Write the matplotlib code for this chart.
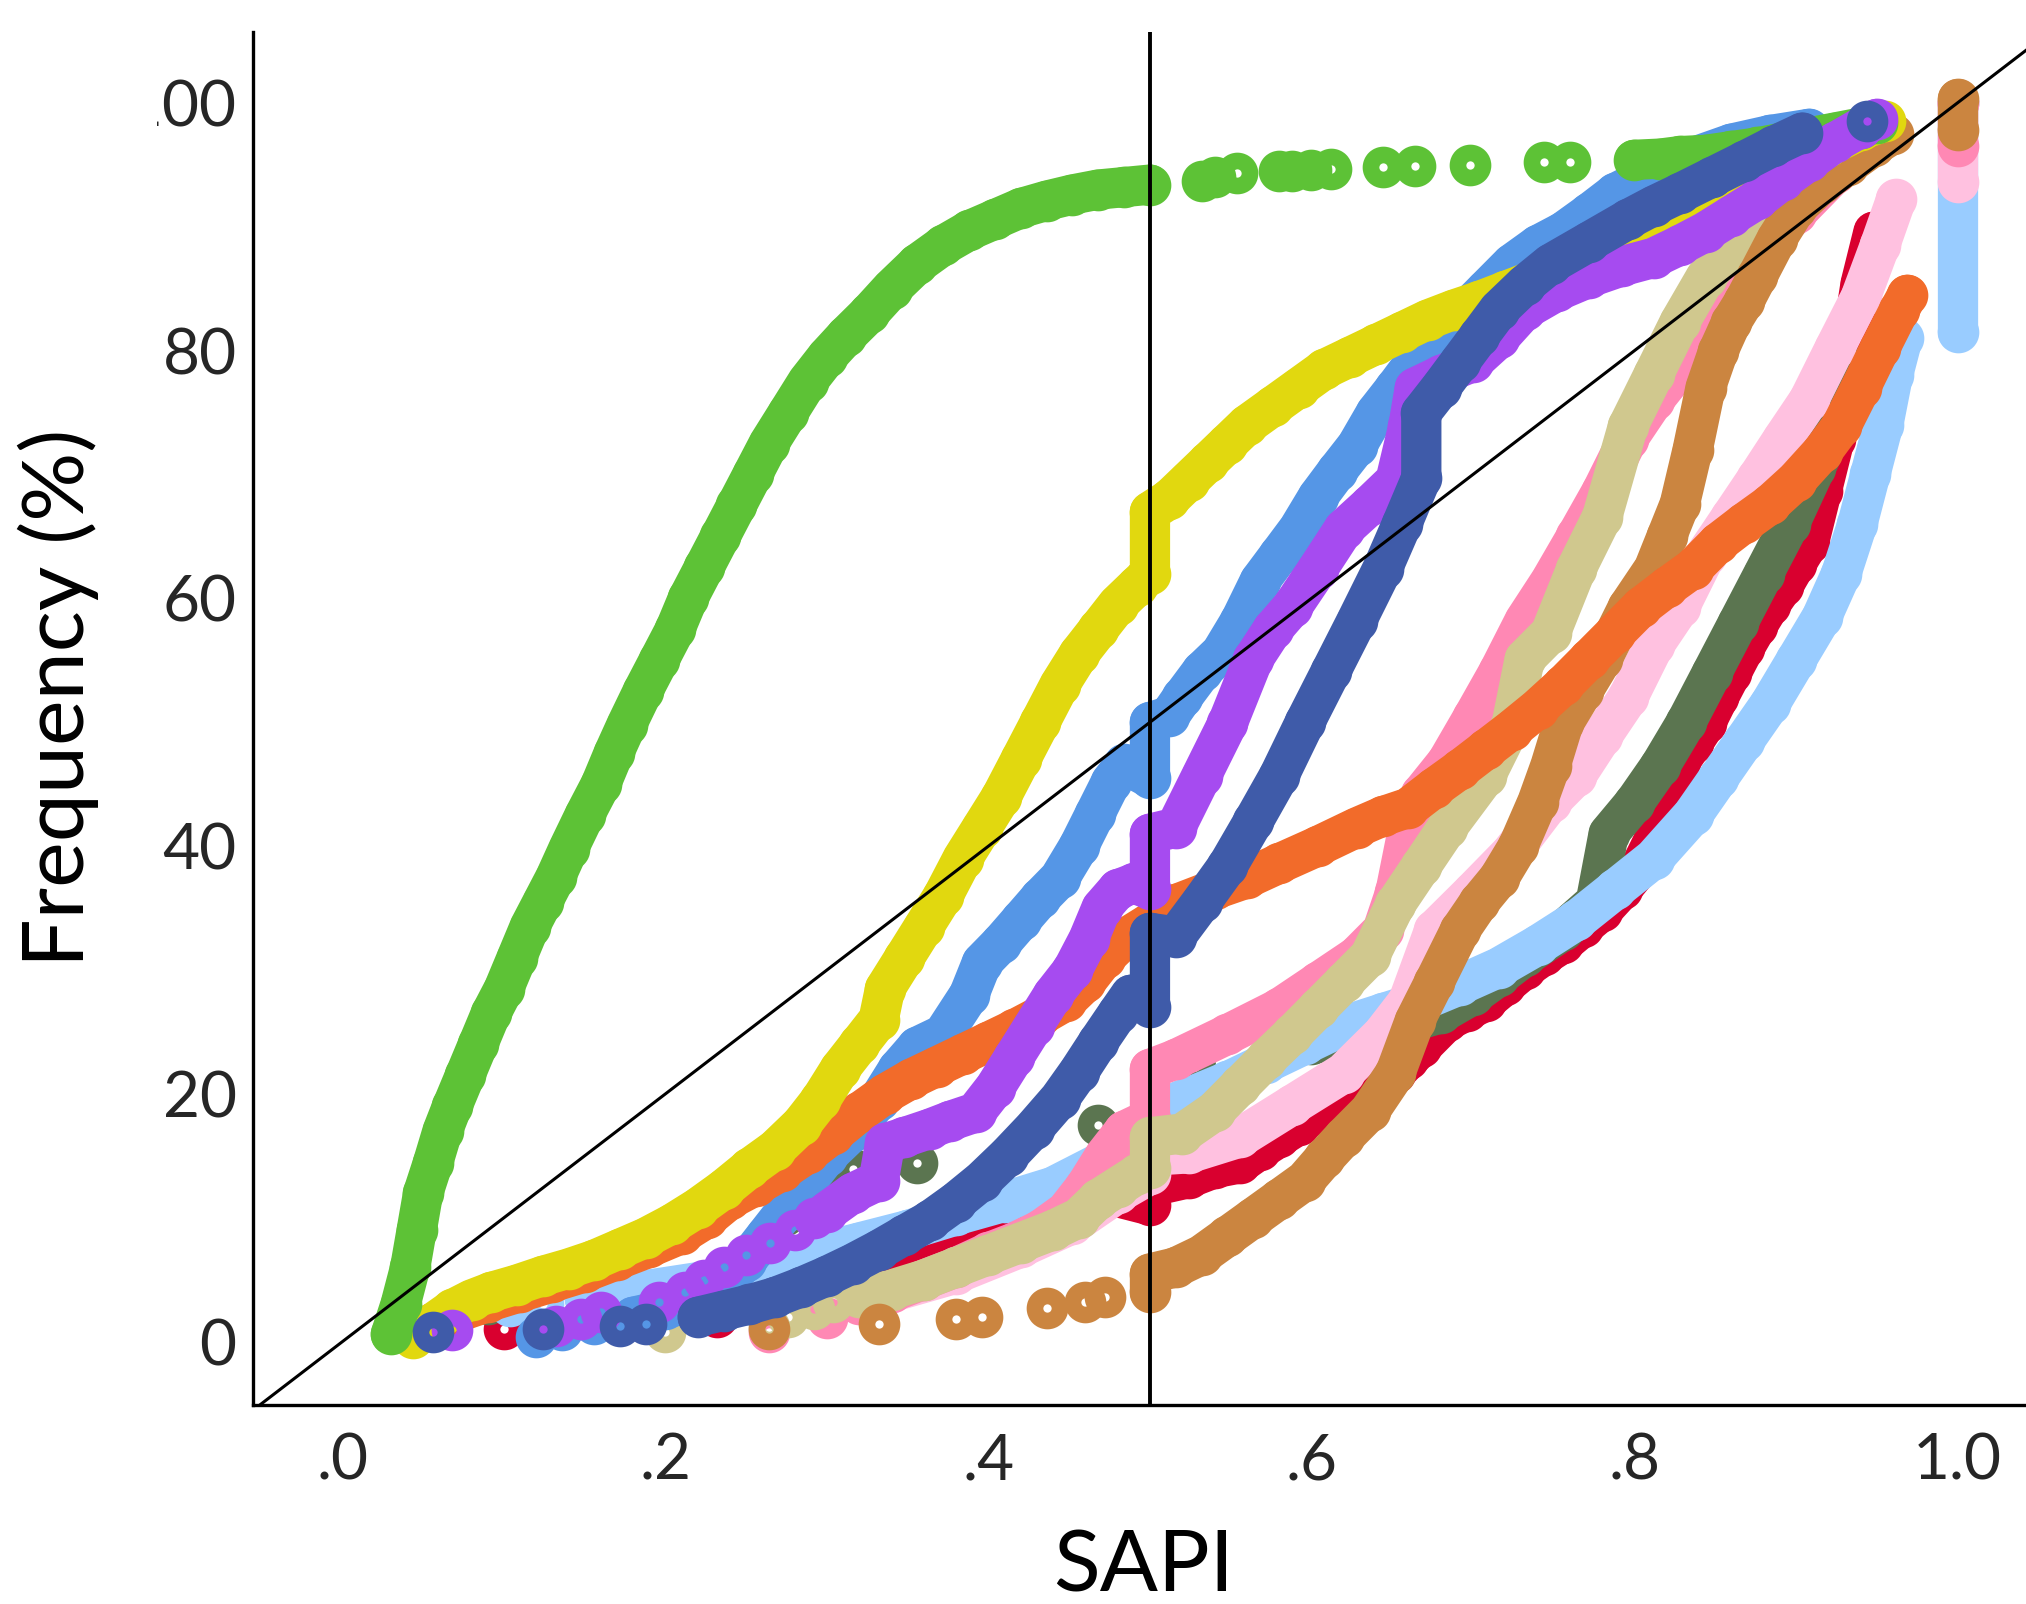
import matplotlib
matplotlib.use("Agg")
import matplotlib.pyplot as plt
from matplotlib.transforms import Bbox, TransformedBbox

# ---- data: (SAPI, cumulative %) ----
green_pts = [(0.030, 0.6), (0.036, 3.0), (0.042, 6.0), (0.046, 9.0), (0.050, 12.0), (0.056, 14.4),
             (0.062, 17.0), (0.068, 19.0), (0.076, 21.5), (0.084, 24.0), (0.092, 26.5), (0.100, 28.5),
             (0.108, 31.0), (0.116, 33.5), (0.124, 35.5), (0.132, 37.5), (0.140, 39.8), (0.150, 42.5),
             (0.160, 45.0), (0.168, 47.5), (0.176, 49.8), (0.186, 52.5), (0.196, 55.0), (0.206, 57.5),
             (0.214, 60.0), (0.224, 62.5), (0.234, 65.0), (0.244, 67.5), (0.254, 70.0), (0.264, 72.5),
             (0.276, 75.0), (0.288, 77.5), (0.300, 79.5), (0.312, 81.2), (0.326, 83.0), (0.340, 85.0),
             (0.356, 87.0), (0.372, 88.5), (0.388, 89.7), (0.404, 90.6), (0.420, 91.5), (0.436, 92.1),
             (0.452, 92.6), (0.468, 93.0), (0.484, 93.2), (0.500, 93.4)]
green_top = [(0.800, 95.4), (0.816, 95.5), (0.828, 95.7), (0.844, 95.8), (0.860, 96.1), (0.876, 96.4),
             (0.892, 96.8), (0.908, 97.2), (0.924, 97.6), (0.940, 98.0), (0.950, 98.4)]
green_rings = [(0.532, 93.7), (0.540, 94.0), (0.554, 94.3), (0.580, 94.5), (0.588, 94.5), (0.600, 94.6),
               (0.612, 94.7), (0.644, 94.8), (0.664, 94.9), (0.698, 95.0), (0.744, 95.2), (0.760, 95.2)]

yellow_pts = [(0.044, 0.3), (0.056, 1.5), (0.068, 2.6), (0.080, 3.4), (0.092, 4.0), (0.108, 4.6),
              (0.124, 5.3), (0.140, 5.9), (0.156, 6.6), (0.172, 7.5), (0.188, 8.4), (0.204, 9.5),
              (0.220, 10.8), (0.236, 12.3), (0.252, 14.0), (0.268, 15.5), (0.284, 17.5), (0.296, 19.5),
              (0.308, 22.0), (0.320, 24.0), (0.332, 26.0), (0.336, 28.5), (0.348, 31.0), (0.360, 33.5),
              (0.372, 36.0), (0.384, 39.0), (0.396, 41.5), (0.408, 44.0), (0.420, 47.0), (0.432, 50.0),
              (0.444, 53.0), (0.456, 55.5), (0.468, 57.5), (0.480, 59.5), (0.492, 61.0), (0.500, 62.0),
              (0.500, 67.0), (0.512, 68.0), (0.524, 69.5), (0.536, 71.0), (0.548, 72.5), (0.560, 74.0),
              (0.576, 75.5), (0.592, 77.0), (0.608, 78.5), (0.624, 79.5), (0.640, 80.5), (0.656, 81.5),
              (0.672, 82.5), (0.688, 83.3), (0.704, 84.0), (0.720, 84.8), (0.740, 85.8), (0.760, 86.8),
              (0.780, 87.8), (0.800, 88.8), (0.820, 89.8), (0.840, 91.0), (0.860, 92.3), (0.880, 93.7),
              (0.900, 95.0), (0.920, 96.5), (0.940, 97.8), (0.955, 98.5)]

orange_pts = [(0.056, 1.5), (0.072, 2.4), (0.090, 3.2), (0.110, 4.0), (0.130, 4.8), (0.150, 5.6),
              (0.170, 6.6), (0.190, 7.6), (0.210, 8.7), (0.226, 10.0), (0.240, 11.5), (0.256, 12.6),
              (0.272, 13.8), (0.288, 15.2), (0.304, 16.8), (0.320, 18.5), (0.336, 20.0), (0.352, 21.2),
              (0.368, 22.2), (0.384, 23.2), (0.400, 24.2), (0.416, 25.2), (0.432, 26.3), (0.448, 27.5),
              (0.460, 29.0), (0.472, 31.0), (0.484, 32.5), (0.500, 33.8), (0.516, 35.3), (0.540, 36.5),
              (0.560, 37.4), (0.580, 38.6), (0.604, 40.0), (0.628, 41.5), (0.644, 42.4), (0.660, 43.1),
              (0.676, 44.7), (0.692, 46.2), (0.708, 47.8), (0.724, 49.4), (0.740, 51.1), (0.756, 53.0),
              (0.772, 55.1), (0.788, 57.2), (0.804, 59.3), (0.820, 60.9), (0.836, 62.4), (0.852, 64.5),
              (0.868, 66.1), (0.884, 67.6), (0.900, 69.5), (0.916, 71.8), (0.928, 73.9), (0.940, 77.0),
              (0.952, 80.2), (0.964, 83.3), (0.969, 84.5)]

blue_pts = [(0.180, 2.0), (0.200, 2.6), (0.220, 3.5), (0.236, 4.8), (0.250, 6.5), (0.262, 8.5),
            (0.274, 10.5), (0.288, 13.0), (0.300, 15.0), (0.316, 17.0), (0.332, 19.5), (0.344, 22.0),
            (0.356, 23.8), (0.372, 24.8), (0.388, 28.0), (0.396, 30.6),
            (0.408, 32.2), (0.420, 34.0), (0.432, 35.8), (0.444, 37.4), (0.456, 40.0), (0.466, 42.6),
            (0.476, 45.2), (0.484, 46.6), (0.500, 45.5), (0.500, 50.0), (0.512, 50.5), (0.520, 52.0),
            (0.532, 54.1), (0.544, 55.6), (0.556, 58.2), (0.568, 61.4), (0.580, 63.5), (0.592, 65.6),
            (0.604, 68.2), (0.616, 70.3), (0.628, 72.3), (0.640, 75.0), (0.652, 77.0), (0.664, 79.1),
            (0.676, 81.0), (0.692, 82.8), (0.708, 84.9), (0.724, 87.0), (0.740, 88.5), (0.756, 89.6),
            (0.772, 91.1), (0.788, 92.7), (0.812, 94.3), (0.836, 95.6), (0.860, 96.7), (0.884, 97.4),
            (0.908, 97.9)]
blue_rings = [(0.120, 0.4), (0.136, 0.9), (0.156, 1.4)]

purple_pts = [(0.300, 10.5), (0.316, 12.0), (0.332, 13.0), (0.336, 16.0), (0.348, 16.5), (0.364, 17.2),
              (0.376, 17.8), (0.392, 18.5), (0.404, 20.5), (0.416, 23.0), (0.428, 25.5), (0.440, 28.0),
              (0.452, 30.0), (0.462, 32.5), (0.470, 35.0), (0.480, 36.5), (0.490, 37.0), (0.500, 36.5),
              (0.500, 41.0), (0.516, 41.5), (0.532, 45.7), (0.548, 49.9), (0.564, 55.1), (0.576, 57.5),
              (0.588, 59.3), (0.604, 62.4), (0.620, 65.6), (0.636, 67.5), (0.652, 69.5), (0.660, 73.9),
              (0.664, 77.0), (0.680, 78.0), (0.700, 79.1), (0.716, 81.0), (0.732, 83.3), (0.752, 84.8),
              (0.772, 85.9), (0.792, 86.8), (0.812, 87.5), (0.828, 88.5), (0.844, 89.6), (0.860, 90.9),
              (0.876, 92.2), (0.892, 93.8), (0.908, 95.3), (0.924, 96.8), (0.940, 98.0), (0.950, 98.7)]
purple_rings = [(0.068, 0.9), (0.132, 1.3), (0.148, 1.8), (0.160, 2.4), (0.196, 3.2), (0.212, 4.0),
                (0.224, 5.0), (0.236, 6.0), (0.250, 7.0), (0.265, 8.0), (0.280, 9.0), (0.292, 10.0)]

darkblue_pts = [(0.220, 2.0), (0.236, 2.5), (0.252, 3.0), (0.268, 3.6), (0.284, 4.4), (0.300, 5.3),
                (0.316, 6.3), (0.332, 7.4), (0.348, 8.6), (0.364, 9.8), (0.380, 11.3), (0.396, 13.0),
                (0.412, 15.0), (0.428, 17.2), (0.444, 19.6), (0.456, 21.8), (0.468, 24.2), (0.480, 26.5),
                (0.488, 28.0), (0.500, 27.0), (0.500, 33.0), (0.516, 32.7), (0.532, 35.5), (0.548, 38.4),
                (0.564, 42.0), (0.580, 45.7), (0.596, 50.0), (0.612, 54.1), (0.628, 58.2), (0.644, 62.4),
                (0.656, 66.0), (0.668, 69.7), (0.668, 75.0), (0.680, 77.0), (0.692, 79.1), (0.704, 81.2),
                (0.716, 83.3), (0.732, 85.3), (0.748, 87.0), (0.772, 88.8), (0.796, 90.6), (0.812, 91.7),
                (0.828, 92.7), (0.848, 94.0), (0.868, 95.3), (0.886, 96.5), (0.904, 97.6)]
darkblue_rings = [(0.056, 0.8), (0.124, 1.0), (0.172, 1.3), (0.188, 1.4), (0.944, 98.5)]

olive_pts = [(0.600, 24.0), (0.640, 25.0), (0.680, 26.5), (0.700, 28.0), (0.716, 29.5), (0.732, 31.1),
             (0.756, 33.2), (0.776, 35.5), (0.784, 41.0), (0.800, 43.5), (0.816, 46.5), (0.832, 50.0),
             (0.848, 54.0), (0.864, 58.0), (0.880, 62.0), (0.896, 66.0), (0.912, 70.5), (0.928, 75.0),
             (0.944, 78.5), (0.958, 81.0)]
olive_rings = [(0.090, 3.0), (0.274, 10.2), (0.300, 12.0), (0.316, 13.9), (0.356, 14.4), (0.468, 17.5),
               (0.528, 22.2)]

lightblue_pts = [(0.150, 3.5), (0.190, 4.2), (0.230, 5.0), (0.260, 6.0), (0.290, 7.0), (0.320, 8.0),
                 (0.350, 9.0), (0.380, 10.2), (0.410, 11.3), (0.440, 12.5), (0.470, 14.5), (0.500, 16.5),
                 (0.500, 18.5), (0.520, 19.5), (0.548, 21.0), (0.572, 22.5), (0.596, 24.0), (0.620, 25.5),
                 (0.644, 26.5), (0.668, 27.5), (0.692, 28.8), (0.716, 30.2), (0.740, 32.0), (0.764, 34.0),
                 (0.788, 36.5), (0.812, 39.0), (0.836, 42.5), (0.852, 45.5), (0.868, 48.5), (0.884, 51.5),
                 (0.900, 55.0), (0.916, 58.5), (0.928, 62.0), (0.938, 66.0), (0.946, 70.0), (0.954, 74.0),
                 (0.960, 78.0), (0.966, 81.0)]
lightblue_end = [(1.0, 81.5), (1.0, 100.0)]
lightblue_rings = [(0.072, 2.5), (0.104, 2.9), (0.124, 3.0)]

red_pts = [(0.284, 5.5), (0.300, 6.0), (0.316, 6.3), (0.340, 7.0), (0.360, 8.1), (0.380, 8.8),
           (0.400, 9.5), (0.420, 10.2), (0.436, 10.8), (0.456, 11.3), (0.476, 11.8), (0.500, 11.0),
           (0.500, 12.5), (0.524, 13.2), (0.540, 14.0), (0.556, 14.4), (0.568, 15.5), (0.580, 16.5),
           (0.592, 17.5), (0.604, 18.6), (0.616, 19.4), (0.628, 20.1), (0.640, 20.9), (0.652, 21.7),
           (0.660, 22.8), (0.668, 23.8), (0.684, 25.9), (0.696, 26.7), (0.708, 27.5), (0.720, 28.8),
           (0.732, 30.1), (0.744, 31.2), (0.756, 32.2), (0.768, 33.5), (0.780, 34.8), (0.792, 36.5),
           (0.804, 38.4), (0.812, 40.5), (0.820, 42.6), (0.828, 46.8), (0.836, 48.3), (0.844, 49.9),
           (0.852, 52.0), (0.860, 54.0), (0.868, 56.0), (0.876, 57.8), (0.884, 59.5), (0.892, 61.0),
           (0.900, 62.8), (0.908, 64.5), (0.916, 68.7), (0.924, 72.9), (0.932, 78.1), (0.936, 82.0),
           (0.940, 85.4), (0.948, 89.6)]
red_rings = [(0.100, 1.0), (0.232, 2.0), (0.262, 4.0)]

hotpink_pts = [(0.320, 3.0), (0.340, 4.0), (0.360, 5.0), (0.380, 6.0), (0.400, 7.2), (0.416, 8.0),
               (0.432, 9.0), (0.448, 10.5), (0.460, 12.5), (0.472, 15.0), (0.484, 17.0), (0.500, 18.0),
               (0.500, 22.0), (0.516, 22.8), (0.548, 24.8), (0.580, 26.9), (0.604, 29.0), (0.628, 31.1),
               (0.644, 33.2), (0.652, 36.3), (0.660, 41.5), (0.668, 44.2), (0.684, 46.8), (0.700, 50.4),
               (0.716, 54.1), (0.732, 58.2), (0.748, 61.4), (0.764, 65.0), (0.780, 68.7), (0.796, 72.9),
               (0.812, 76.0), (0.828, 78.6), (0.844, 82.3), (0.860, 85.4), (0.876, 88.0), (0.900, 91.1),
               (0.924, 94.3), (0.940, 96.3)]
hotpink_end = [(1.0, 96.5), (1.0, 100.0)]
hotpink_rings = [(0.264, 0.8), (0.300, 1.9)]

lightpink_pts = [(0.340, 4.0), (0.380, 5.5), (0.420, 7.6), (0.452, 9.5), (0.480, 12.0), (0.500, 13.5),
                 (0.500, 15.0), (0.524, 15.2), (0.556, 16.5), (0.588, 19.1), (0.620, 21.7), (0.644, 24.8),
                 (0.660, 27.5), (0.676, 33.2), (0.700, 36.3), (0.724, 39.5), (0.748, 43.6), (0.764, 45.7),
                 (0.780, 48.9), (0.796, 52.0), (0.812, 56.2), (0.828, 59.3), (0.844, 63.5), (0.860, 66.6),
                 (0.876, 69.7), (0.892, 72.9), (0.908, 76.0), (0.924, 80.2), (0.940, 84.3), (0.952, 88.5),
                 (0.962, 92.2)]
lightpink_end = [(1.0, 93.6), (1.0, 100.0)]

khaki_pts = [(0.320, 3.6), (0.340, 4.2), (0.360, 5.0), (0.380, 6.0), (0.400, 7.0), (0.420, 8.0),
             (0.440, 9.0), (0.456, 10.0), (0.468, 11.5), (0.480, 12.5), (0.492, 13.5), (0.500, 14.0),
             (0.500, 16.5), (0.520, 16.8), (0.540, 18.6), (0.556, 20.7), (0.572, 22.8), (0.588, 24.8),
             (0.604, 26.9), (0.620, 29.0), (0.636, 31.1), (0.652, 35.3), (0.668, 38.4), (0.684, 41.5),
             (0.708, 45.7), (0.724, 49.9), (0.732, 55.1), (0.748, 57.2), (0.764, 62.4), (0.780, 66.6),
             (0.796, 73.9), (0.812, 78.1), (0.828, 82.3), (0.844, 85.9), (0.864, 89.0), (0.884, 91.6),
             (0.908, 94.8), (0.932, 96.9), (0.944, 97.9)]
khaki_rings = [(0.200, 0.8), (0.264, 1.2), (0.276, 2.0), (0.292, 2.6), (0.304, 3.2)]

brown_pts = [(0.500, 4.0), (0.500, 5.5), (0.516, 6.0), (0.532, 7.0), (0.548, 8.5), (0.564, 10.0),
             (0.580, 11.5), (0.596, 13.0), (0.608, 14.8), (0.620, 16.5), (0.636, 18.6), (0.652, 21.7),
             (0.664, 25.9), (0.676, 29.0), (0.692, 33.2), (0.704, 35.5), (0.716, 37.4), (0.728, 40.0),
             (0.740, 43.6), (0.748, 46.5), (0.756, 49.9), (0.768, 52.5), (0.780, 55.1), (0.796, 59.3),
             (0.812, 62.4), (0.820, 65.0), (0.828, 67.6), (0.836, 72.0), (0.844, 77.0), (0.852, 80.0),
             (0.860, 82.3), (0.868, 84.0), (0.876, 86.0), (0.888, 89.0), (0.900, 91.5), (0.916, 93.5),
             (0.932, 95.0), (0.948, 96.5), (0.960, 97.5)]
brown_end = [(1.0, 97.8), (1.0, 100.3)]
brown_rings = [(0.264, 1.0), (0.332, 1.4), (0.380, 1.8), (0.396, 2.0), (0.436, 2.7), (0.460, 3.2),
               (0.472, 3.6)]

x_ticks = [0.0, 0.2, 0.4, 0.6, 0.8, 1.0]
x_ticklabels = [".0", ".2", ".4", ".6", ".8", "1.0"]
y_ticks = [0, 20, 40, 60, 80, 100]
y_ticklabels = ["0", "20", "40", "60", "80", "100"]

# drawing order: first is at the bottom
series = [
    ("#D9002F", [red_pts], red_rings),
    ("#5B7550", [olive_pts], olive_rings),
    ("#99CCFF", [lightblue_pts, lightblue_end], lightblue_rings),
    ("#FFC1E0", [lightpink_pts, lightpink_end], []),
    ("#FF88B4", [hotpink_pts, hotpink_end], hotpink_rings),
    ("#D0C88E", [khaki_pts], khaki_rings),
    ("#CB8540", [brown_pts, brown_end], brown_rings),
    ("#5596E6", [blue_pts], blue_rings),
    ("#F26B2A", [orange_pts], []),
    ("#E1D80F", [yellow_pts], []),
    ("#5DC236", [green_pts, green_top], green_rings),
    ("#A64BF0", [purple_pts], purple_rings),
    ("#3F5BA9", [darkblue_pts], darkblue_rings),
]

LW = 29
MS = 18
MEW = 12

fig = plt.figure(figsize=(20.26, 16.04), dpi=100)
ax = fig.add_axes([0.125, 0.1241, 0.875, 0.8558])

for color, bands, rings in series:
    for band in bands:
        xs, ys = zip(*band)
        ax.plot(xs, ys, color=color, lw=LW, solid_capstyle="round", solid_joinstyle="round",
                marker="o", ms=MS, mew=MEW, mfc="none", mec=color)
    if rings:
        xs, ys = zip(*rings)
        ax.plot(xs, ys, ls="none", marker="o", ms=MS, mew=MEW, mfc="none", mec=color)

# reference lines
ax.axvline(0.5, color="black", lw=2.8)
ax.axline((0, 0), (1, 100), color="black", lw=2.2)

ax.set_xlim(-0.0552, 1.0424)
ax.set_ylim(-5.11, 105.7)

for side in ["top", "right"]:
    ax.spines[side].set_visible(False)
for side in ["left", "bottom"]:
    ax.spines[side].set_linewidth(2.4)

tick_font = ["Lato", "DejaVu Sans"]
ax.set_xticks(x_ticks)
ax.set_xticklabels(x_ticklabels, family=tick_font, fontsize=46, color="#262626")
ax.set_yticks(y_ticks)
ax.set_yticklabels(y_ticklabels, family=tick_font, fontsize=46, color="#262626")
ax.tick_params(axis="x", length=0, pad=20)
ax.tick_params(axis="y", length=0, pad=12)

ax.set_xlabel("SAPI", family=["Lato", "DejaVu Sans"], fontsize=62)
ax.set_ylabel("Frequency (%)", family=["Lato", "DejaVu Sans"], fontsize=62)
ax.xaxis.set_label_coords(0.502, -0.1186)
ax.yaxis.set_label_coords(-0.110, 0.515)
ax.xaxis.label.set_va("center")
ax.yaxis.label.set_va("center")

# the top y label is cut off on its left side in the original
top_label = ax.yaxis.get_major_ticks()[-1].label1
top_label.set_clip_box(TransformedBbox(Bbox.from_extents(0.0775, 0, 1, 1), fig.transFigure))
top_label.set_clip_on(True)

fig.savefig("out.png", dpi=100)
